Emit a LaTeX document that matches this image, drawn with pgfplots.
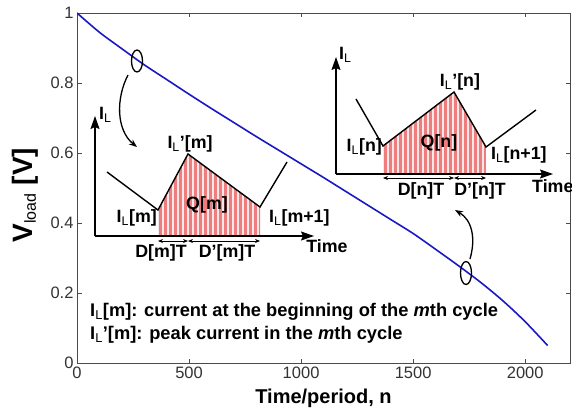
\documentclass[border=0pt]{standalone}
\usepackage{fontspec}
\setmainfont{Liberation Sans}
\usepackage{pgfplots}
\pgfplotsset{compat=1.18}
\usetikzlibrary{arrows.meta,patterns.meta}
\definecolor{curve}{RGB}{25,25,195}
\definecolor{stripe}{RGB}{240,125,125}
\definecolor{stripebg}{RGB}{244,232,232}
\definecolor{axgray}{RGB}{75,75,75}
\newcommand{\fs}{\fontsize{17.8}{19}\selectfont\bfseries}
\newcommand{\fn}{\fontsize{18.3}{20}\selectfont\bfseries}
\newcommand{\IL}{I\textsubscript{\mdseries L}}
\begin{document}
\begin{tikzpicture}
\begin{axis}[
  at={(0,0)}, anchor=south west,
  scale only axis, width=493pt, height=350pt,
  xmin=0, xmax=2200, ymin=0, ymax=1,
  xtick={0,500,1000,1500,2000}, ytick={0,0.2,0.4,0.6,0.8,1},
  scaled ticks=false,
  /pgf/number format/1000 sep={},
  /pgf/number format/assume math mode=true,
  tick align=inside, major tick length=4.5pt,
  axis line style={axgray, line width=0.9pt},
  every tick/.style={axgray, line width=0.9pt},
  tick label style={font=\fontsize{16.5}{18}\selectfont, text=black!80},
  xlabel={\fontsize{20}{22}\selectfont\bfseries Time/period, n},
  xlabel style={at={(axis description cs:0.5,-0.1)}, anchor=center},
  ylabel={\fontsize{28}{30}\selectfont\bfseries V\textsubscript{\fontsize{16}{18}\selectfont\mdseries load} [V]},
  ylabel style={at={(axis description cs:-0.1055,0.48)}, anchor=center},
]
\addplot[curve, line width=1.6pt, smooth] coordinates {
 (0,1.0) (100,0.945) (200,0.898) (300,0.852) (400,0.81) (500,0.768)
 (600,0.727) (700,0.687) (800,0.647) (900,0.608) (1000,0.569)
 (1100,0.53) (1200,0.49) (1300,0.45) (1400,0.41) (1500,0.37)
 (1600,0.325) (1700,0.279) (1800,0.231) (1900,0.178) (2000,0.118) (2100,0.05)
};
\end{axis}
\begin{scope}[x=1pt,y=-1pt,shift={(-77,-363)}]
 % ellipses and curved arrows
 \draw[line width=1.3pt] (137,61) ellipse [x radius=5.5, y radius=11];
 \draw[line width=1.3pt] (466,273) ellipse [x radius=5.5, y radius=11.5];
 \draw[line width=1.3pt, -{Stealth[length=8pt,width=6pt]}] (128,75) .. controls (116,98) and (116,130) .. (137,147);
 \draw[line width=1.3pt, -{Stealth[length=8pt,width=6pt]}] (470,259) .. controls (476,238) and (472,220) .. (455,210);
 % left inset
 \fill[stripebg] (158,236) -- (158,210) -- (188,154) -- (260,207) -- (260,236) -- cycle;
 \fill[pattern={Lines[angle=90,distance=5pt,line width=3pt]}, pattern color=stripe] (158,236) -- (158,210) -- (188,154) -- (260,207) -- (260,236) -- cycle;
 \draw[line width=1.4pt, line join=miter] (107,172) -- (158,210) -- (188,154) -- (260,207) -- (287,162);
 \draw[line width=1.4pt, -{Stealth[length=13pt,width=9pt,inset=2pt]}] (95,236) -- (95,116);
 \draw[line width=1.4pt, -{Stealth[length=13pt,width=9pt,inset=2pt]}] (95,236) -- (314,236);
 \draw[line width=0.8pt, {Stealth[length=5pt,width=4pt]}-{Stealth[length=5pt,width=4pt]}] (158,241) -- (188,241);
 \draw[line width=0.8pt, {Stealth[length=5pt,width=4pt]}-{Stealth[length=5pt,width=4pt]}] (188,241) -- (260,241);
 \node[anchor=west, inner sep=0] at (99,115) {\fs\IL};
 \node[inner sep=0] at (190,144) {\fs\IL’[m]};
 \node[inner sep=0] at (207,205) {\fs Q[m]};
 \node[inner sep=0, anchor=east] at (157,218) {\fs\IL[m]};
 \node[inner sep=0, anchor=west] at (269,218) {\fs\IL[m+1]};
 \node[inner sep=0] at (161,253) {\fs D[m]T};
 \node[inner sep=0] at (227,253) {\fs D’[m]T};
 \node[inner sep=0] at (327,246) {\fs Time};
 % right inset
 \fill[stripebg] (383,174) -- (383,146) -- (454,92) -- (486,147) -- (486,174) -- cycle;
 \fill[pattern={Lines[angle=90,distance=5pt,line width=3pt]}, pattern color=stripe] (383,174) -- (383,146) -- (454,92) -- (486,147) -- (486,174) -- cycle;
 \draw[line width=1.4pt, line join=miter] (356,99) -- (383,146) -- (454,92) -- (486,147) -- (536,110);
 \draw[line width=1.4pt, -{Stealth[length=13pt,width=9pt,inset=2pt]}] (336,174) -- (336,57);
 \draw[line width=1.4pt, -{Stealth[length=13pt,width=9pt,inset=2pt]}] (336,174) -- (553,174);
 \draw[line width=0.8pt, {Stealth[length=5pt,width=4pt]}-{Stealth[length=5pt,width=4pt]}] (383,178) -- (454,178);
 \draw[line width=0.8pt, {Stealth[length=5pt,width=4pt]}-{Stealth[length=5pt,width=4pt]}] (454,178) -- (486,178);
 \node[anchor=west, inner sep=0] at (339,55) {\fs\IL};
 \node[inner sep=0] at (460,82) {\fs\IL’[n]};
 \node[inner sep=0] at (439,143) {\fs Q[n]};
 \node[inner sep=0, anchor=east] at (382,147) {\fs\IL[n]};
 \node[inner sep=0, anchor=west] at (491,155) {\fs\IL[n+1]};
 \node[inner sep=0] at (421,191) {\fs D[n]T};
 \node[inner sep=0] at (480,191) {\fs D’[n]T};
 \node[inner sep=0, anchor=west] at (532,186) {\fs Time};
 % notes
 \node[inner sep=0, anchor=west] at (90,312) {\fn\IL[m]: current at the beginning of the \textit{m}th cycle};
 \node[inner sep=0, anchor=west] at (90,335) {\fn\IL’[m]: peak current in the \textit{m}th cycle};
\end{scope}
\pgfresetboundingbox
\path[use as bounding box] (-77pt,-50pt) rectangle (495pt,363pt);
\end{tikzpicture}
\end{document}
